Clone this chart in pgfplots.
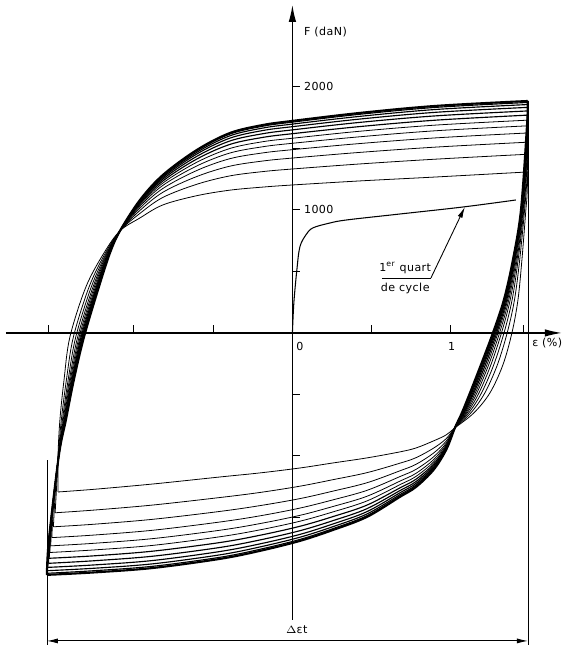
\documentclass[border=0pt]{standalone}
\usepackage{fontspec}
\setmainfont{DejaVu Sans}[LetterSpace=4]
\usepackage{pgfplots}
\pgfplotsset{compat=1.18}
\usetikzlibrary{arrows.meta}

% one style per family of cycles: thin early cycles, heavier stabilised ones
\pgfplotsset{
  cyc/.style={black,line width=0.45pt,smooth,tension=0.55,mark=none},
  cycb/.style={cyc,line width=0.65pt},
  cyco/.style={cyc,line width=1.2pt},
}

\begin{document}
\begin{tikzpicture}[font=\fontsize{6.3}{7.5}\selectfont]
\begin{axis}[
  scale only axis, width=11.12cm, height=12.3cm,
  xmin=-1.808, xmax=1.700, ymin=-2333, ymax=2667,
  axis lines=middle, clip=false,
  axis line style={line width=0.75pt,-{Latex[length=3.4mm,width=1.5mm]}},
  xtick={-1.54,-1,-0.5,0.5,1,1.46},
  ytick={-1500,-1000,-500,500,1000,1500,2000},
  xticklabel=\empty, yticklabel=\empty,
  tick align=center, major tick length=0.15cm,
  every tick/.style={black,line width=0.6pt},
  xtick style={yshift=0.075cm},
  ytick style={xshift=0.075cm},
]
\coordinate (bbl) at (axis cs:-1.845,-2594);
\coordinate (btr) at (axis cs:1.719,2707);

% ---- cycle 1 (t=0)
\addplot[cyc] coordinates {(-1.479,-1293) (-1.479,-1000) (-1.467,-707) (-1.441,-382) (-1.404,-33) (-1.303,374) (-1.189,650) (-1.088,830) (-0.962,935) (-0.817,1041) (-0.603,1116) (-0.394,1161) (-0.186,1186) (0,1203) (0.426,1236) (0.905,1268) (1.485,1309)};
\addplot[cyc] coordinates {(1.485,1309) (1.48,1109) (1.473,1000) (1.448,593) (1.423,268) (1.385,0) (1.328,-260) (1.246,-488) (1.145,-650) (1.025,-772) (0.97,-829) (0.89,-878) (0.78,-935) (0.678,-967) (0.470,-1016) (0.256,-1057) (0.047,-1098) (-0.205,-1138) (-0.457,-1171) (-0.880,-1228) (-1.25,-1271) (-1.479,-1293)};
% ---- t=0.25
\addplot[cyc] coordinates {(-1.497,-1462) (-1.485,-1182) (-1.478,-1000) (-1.458,-707) (-1.426,-382) (-1.382,-33) (-1.283,374) (-1.180,650) (-1.088,830) (-0.962,972) (-0.817,1102) (-0.603,1209) (-0.394,1277) (-0.186,1312) (0,1333) (0.426,1374) (0.905,1413) (1.485,1453)};
\addplot[cyc] coordinates {(1.485,1453) (1.48,1253) (1.465,1000) (1.434,593) (1.401,268) (1.355,0) (1.293,-260) (1.214,-488) (1.126,-650) (1.025,-772) (0.97,-860) (0.89,-937) (0.78,-1014) (0.678,-1059) (0.470,-1136) (0.256,-1193) (0.047,-1246) (-0.205,-1297) (-0.457,-1338) (-0.880,-1399) (-1.25,-1440) (-1.497,-1462)};
% ---- t=0.42
\addplot[cyc] coordinates {(-1.508,-1576) (-1.496,-1296) (-1.477,-1000) (-1.451,-707) (-1.415,-382) (-1.367,-33) (-1.269,374) (-1.173,650) (-1.088,830) (-0.962,996) (-0.817,1144) (-0.603,1272) (-0.394,1356) (-0.186,1398) (0,1422) (0.426,1468) (0.905,1511) (1.485,1551)};
\addplot[cyc] coordinates {(1.485,1551) (1.48,1351) (1.460,1000) (1.424,593) (1.386,268) (1.335,0) (1.270,-260) (1.193,-488) (1.113,-650) (1.025,-772) (0.97,-880) (0.89,-977) (0.78,-1068) (0.678,-1121) (0.470,-1218) (0.256,-1286) (0.047,-1347) (-0.205,-1404) (-0.457,-1451) (-0.880,-1515) (-1.25,-1555) (-1.508,-1576)};
% ---- t=0.55
\addplot[cyc] coordinates {(-1.518,-1664) (-1.506,-1384) (-1.476,-1000) (-1.446,-707) (-1.407,-382) (-1.355,-33) (-1.258,374) (-1.168,650) (-1.088,830) (-0.962,1015) (-0.817,1175) (-0.603,1321) (-0.394,1417) (-0.186,1464) (0,1490) (0.426,1540) (0.905,1586) (1.485,1626)};
\addplot[cyc] coordinates {(1.485,1626) (1.48,1426) (1.456,1000) (1.417,593) (1.374,268) (1.319,0) (1.252,-260) (1.177,-488) (1.103,-650) (1.025,-772) (0.97,-896) (0.89,-1008) (0.78,-1109) (0.678,-1168) (0.470,-1280) (0.256,-1357) (0.047,-1424) (-0.205,-1487) (-0.457,-1537) (-0.880,-1604) (-1.25,-1643) (-1.518,-1664)};
% ---- t=0.65
\addplot[cyc] coordinates {(-1.525,-1731) (-1.513,-1451) (-1.476,-1000) (-1.442,-707) (-1.401,-382) (-1.346,-33) (-1.250,374) (-1.164,650) (-1.088,830) (-0.962,1030) (-0.817,1200) (-0.603,1358) (-0.394,1463) (-0.186,1514) (0,1542) (0.426,1595) (0.905,1644) (1.485,1684)};
\addplot[cyc] coordinates {(1.485,1684) (1.48,1484) (1.453,1000) (1.411,593) (1.365,268) (1.307,0) (1.238,-260) (1.164,-488) (1.096,-650) (1.025,-772) (0.97,-908) (0.89,-1031) (0.78,-1141) (0.678,-1205) (0.470,-1328) (0.256,-1411) (0.047,-1483) (-0.205,-1550) (-0.457,-1604) (-0.880,-1672) (-1.25,-1710) (-1.525,-1731)};
% ---- t=0.73
\addplot[cyc] coordinates {(-1.530,-1785) (-1.518,-1505) (-1.475,-1000) (-1.439,-707) (-1.396,-382) (-1.339,-33) (-1.243,374) (-1.161,650) (-1.088,830) (-0.962,1042) (-0.817,1219) (-0.603,1388) (-0.394,1500) (-0.186,1555) (0,1583) (0.426,1640) (0.905,1690) (1.485,1730)};
\addplot[cyc] coordinates {(1.485,1730) (1.48,1530) (1.450,1000) (1.406,593) (1.358,268) (1.297,0) (1.227,-260) (1.154,-488) (1.090,-650) (1.025,-772) (0.97,-918) (0.89,-1050) (0.78,-1166) (0.678,-1234) (0.470,-1366) (0.256,-1455) (0.047,-1531) (-0.205,-1601) (-0.457,-1657) (-0.880,-1727) (-1.25,-1764) (-1.530,-1785)};
% ---- t=0.80
\addplot[cycb] coordinates {(-1.535,-1832) (-1.523,-1552) (-1.475,-1000) (-1.437,-707) (-1.391,-382) (-1.333,-33) (-1.237,374) (-1.159,650) (-1.088,830) (-0.962,1052) (-0.817,1236) (-0.603,1414) (-0.394,1533) (-0.186,1590) (0,1620) (0.426,1678) (0.905,1730) (1.485,1771)};
\addplot[cycb] coordinates {(1.485,1771) (1.48,1571) (1.448,1000) (1.402,593) (1.352,268) (1.289,0) (1.217,-260) (1.145,-488) (1.084,-650) (1.025,-772) (0.97,-927) (0.89,-1067) (0.78,-1189) (0.678,-1260) (0.470,-1400) (0.256,-1493) (0.047,-1572) (-0.205,-1645) (-0.457,-1704) (-0.880,-1774) (-1.25,-1812) (-1.535,-1832)};
% ---- t=0.86
\addplot[cycb] coordinates {(-1.539,-1873) (-1.527,-1593) (-1.475,-1000) (-1.434,-707) (-1.388,-382) (-1.327,-33) (-1.232,374) (-1.156,650) (-1.088,830) (-0.962,1061) (-0.817,1251) (-0.603,1436) (-0.394,1561) (-0.186,1620) (0,1651) (0.426,1712) (0.905,1765) (1.485,1805)};
\addplot[cycb] coordinates {(1.485,1805) (1.48,1605) (1.446,1000) (1.399,593) (1.346,268) (1.282,0) (1.208,-260) (1.138,-488) (1.080,-650) (1.025,-772) (0.97,-934) (0.89,-1081) (0.78,-1208) (0.678,-1282) (0.470,-1429) (0.256,-1526) (0.047,-1608) (-0.205,-1683) (-0.457,-1744) (-0.880,-1815) (-1.25,-1852) (-1.539,-1873)};
% ---- t=0.91
\addplot[cycb] coordinates {(-1.543,-1906) (-1.531,-1626) (-1.474,-1000) (-1.432,-707) (-1.385,-382) (-1.323,-33) (-1.228,374) (-1.154,650) (-1.088,830) (-0.962,1068) (-0.817,1263) (-0.603,1455) (-0.394,1584) (-0.186,1646) (0,1677) (0.426,1739) (0.905,1794) (1.485,1834)};
\addplot[cycb] coordinates {(1.485,1834) (1.48,1634) (1.445,1000) (1.396,593) (1.342,268) (1.276,0) (1.202,-260) (1.131,-488) (1.076,-650) (1.025,-772) (0.97,-940) (0.89,-1093) (0.78,-1223) (0.678,-1300) (0.470,-1453) (0.256,-1553) (0.047,-1638) (-0.205,-1715) (-0.457,-1777) (-0.880,-1850) (-1.25,-1886) (-1.543,-1906)};
% ---- t=0.95
\addplot[cycb] coordinates {(-1.546,-1933) (-1.534,-1653) (-1.474,-1000) (-1.431,-707) (-1.382,-382) (-1.319,-33) (-1.225,374) (-1.153,650) (-1.088,830) (-0.962,1074) (-0.817,1273) (-0.603,1469) (-0.394,1603) (-0.186,1666) (0,1698) (0.426,1761) (0.905,1817) (1.485,1857)};
\addplot[cycb] coordinates {(1.485,1857) (1.48,1657) (1.444,1000) (1.394,593) (1.338,268) (1.271,0) (1.196,-260) (1.126,-488) (1.073,-650) (1.025,-772) (0.97,-945) (0.89,-1102) (0.78,-1236) (0.678,-1315) (0.470,-1472) (0.256,-1575) (0.047,-1661) (-0.205,-1740) (-0.457,-1804) (-0.880,-1877) (-1.25,-1913) (-1.546,-1933)};
% ---- t=0.98
\addplot[cycb] coordinates {(-1.548,-1954) (-1.536,-1674) (-1.474,-1000) (-1.430,-707) (-1.380,-382) (-1.317,-33) (-1.223,374) (-1.152,650) (-1.088,830) (-0.962,1078) (-0.817,1280) (-0.603,1481) (-0.394,1617) (-0.186,1681) (0,1714) (0.426,1778) (0.905,1834) (1.485,1874)};
\addplot[cycb] coordinates {(1.485,1874) (1.48,1674) (1.443,1000) (1.392,593) (1.336,268) (1.267,0) (1.192,-260) (1.123,-488) (1.071,-650) (1.025,-772) (0.97,-949) (0.89,-1109) (0.78,-1246) (0.678,-1326) (0.470,-1486) (0.256,-1591) (0.047,-1679) (-0.205,-1759) (-0.457,-1824) (-0.880,-1897) (-1.25,-1933) (-1.548,-1954)};
% ---- stabilised cycle
\addplot[cyco] coordinates {(-1.549,-1967) (-1.537,-1687) (-1.474,-1000) (-1.429,-707) (-1.379,-382) (-1.315,-33) (-1.221,374) (-1.151,650) (-1.088,830) (-0.962,1081) (-0.817,1285) (-0.603,1488) (-0.394,1626) (-0.186,1691) (0,1724) (0.426,1789) (0.905,1846) (1.485,1886)};
\addplot[cyco] coordinates {(1.485,1886) (1.48,1686) (1.442,1000) (1.391,593) (1.334,268) (1.265,0) (1.189,-260) (1.120,-488) (1.069,-650) (1.025,-772) (0.97,-951) (0.89,-1114) (0.78,-1252) (0.678,-1333) (0.470,-1496) (0.256,-1602) (0.047,-1691) (-0.205,-1772) (-0.457,-1837) (-0.880,-1911) (-1.25,-1947) (-1.549,-1967)};

% ---- first quarter cycle
\addplot[cyc,line width=0.6pt] coordinates {(0,0) (0.009,244) (0.028,512) (0.047,699) (0.085,797) (0.129,854) (0.237,894) (0.344,919) (0.678,967) (1.076,1024) (1.410,1081)};

% ---- dimension lines
\draw[line width=0.4pt] (axis cs:1.486,1886) -- (axis cs:1.486,-2537);
\draw[line width=0.4pt] (axis cs:-1.549,-1033) -- (axis cs:-1.549,-2537);
\draw[line width=0.5pt,{Latex[length=2.2mm,width=1mm]}-{Latex[length=2.2mm,width=1mm]}]
  (axis cs:-1.549,-2504) -- (axis cs:1.486,-2504);
\node at (axis cs:0.028,-2415) {$\Delta$εt};

% ---- annotation
\node at (axis cs:0.712,528) {1\textsuperscript{er} quart};
\node at (axis cs:0.712,358) {de cycle};
\draw[line width=0.5pt] (axis cs:0.565,447) -- (axis cs:0.874,447);
\draw[line width=0.5pt,-{Latex[length=2.2mm,width=1mm]}] (axis cs:0.874,447) -- (axis cs:1.088,1024);

% ---- axis texts
\node[anchor=west] at (axis cs:0.035,2447) {F (daN)};
\node[anchor=west,inner sep=1pt] at (axis cs:0.060,2000) {2000};
\node[anchor=west,inner sep=1pt] at (axis cs:0.060,1000) {1000};
\node[anchor=north west,inner sep=1pt] at (axis cs:0.012,-60) {0};
\node[anchor=north,inner sep=1pt] at (axis cs:1.005,-60) {1};
\node[anchor=north west,inner sep=1pt] at (axis cs:1.500,-25) {ε (\%)};
\end{axis}
\pgfresetboundingbox
\useasboundingbox (bbl) rectangle (btr);
\end{tikzpicture}
\end{document}
